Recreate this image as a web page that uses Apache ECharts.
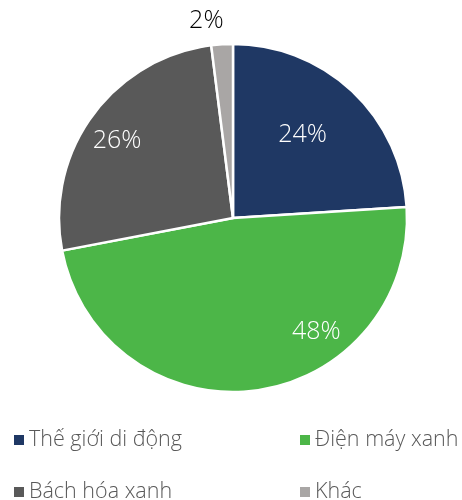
<!DOCTYPE html>
<html>
<head>
<meta charset="utf-8">
<script src="https://cdn.jsdelivr.net/npm/echarts@6/dist/echarts.min.js"></script>
<style>
  html, body { margin: 0; padding: 0; background: #ffffff; }
  #chart { width: 462px; height: 500px; }
</style>
</head>
<body>
<div id="chart"></div>
<script>
const categories = ['Thế giới di động', 'Điện máy xanh', 'Bách hóa xanh', 'Khác'];
const values = [24, 48, 26, 2];
const colors = ['#1F3864', '#4CB648', '#595959', '#A9A6A5'];
const labelColors = ['#ffffff', '#ffffff', '#ffffff', '#000000'];
const labelShift = [[8, -18], [72, 25], [-43, -24], [-21, -107]];

const FONT = '"Open Sans", "Noto Sans", sans-serif';

const chart = echarts.init(document.getElementById('chart'), null, { renderer: 'canvas' });

const legendPos = [[14, 428], [300, 428], [14, 480], [300, 480]];
const legends = categories.map((c, i) => ({
  data: [c],
  left: legendPos[i][0],
  top: legendPos[i][1],
  padding: 0,
  icon: 'rect',
  itemWidth: 10,
  itemHeight: 10,
  itemGap: 0,
  selectedMode: false,
  itemStyle: { borderWidth: 0 },
  textStyle: { fontFamily: FONT, fontSize: 21.5, fontWeight: 300, color: '#595959', lineHeight: 24 }
}));

chart.setOption({
  animation: false,
  backgroundColor: '#ffffff',
  legend: legends,
  series: [{
    type: 'pie',
    center: [233, 218],
    radius: [0, 174],
    startAngle: 90,
    clockwise: true,
    avoidLabelOverlap: false,
    itemStyle: { borderColor: '#ffffff', borderWidth: 2.5 },
    label: {
      show: true,
      position: 'inside',
      formatter: '{c}%',
      fontFamily: FONT,
      fontSize: 25,
      fontWeight: 300
    },
    labelLine: { show: false },
    emphasis: { disabled: true },
    labelLayout: function (p) {
      return { dx: labelShift[p.dataIndex][0], dy: labelShift[p.dataIndex][1] };
    },
    data: categories.map((c, i) => ({
      name: c,
      value: values[i],
      itemStyle: { color: colors[i] },
      label: { color: labelColors[i] }
    }))
  }]
});
</script>
</body>
</html>
